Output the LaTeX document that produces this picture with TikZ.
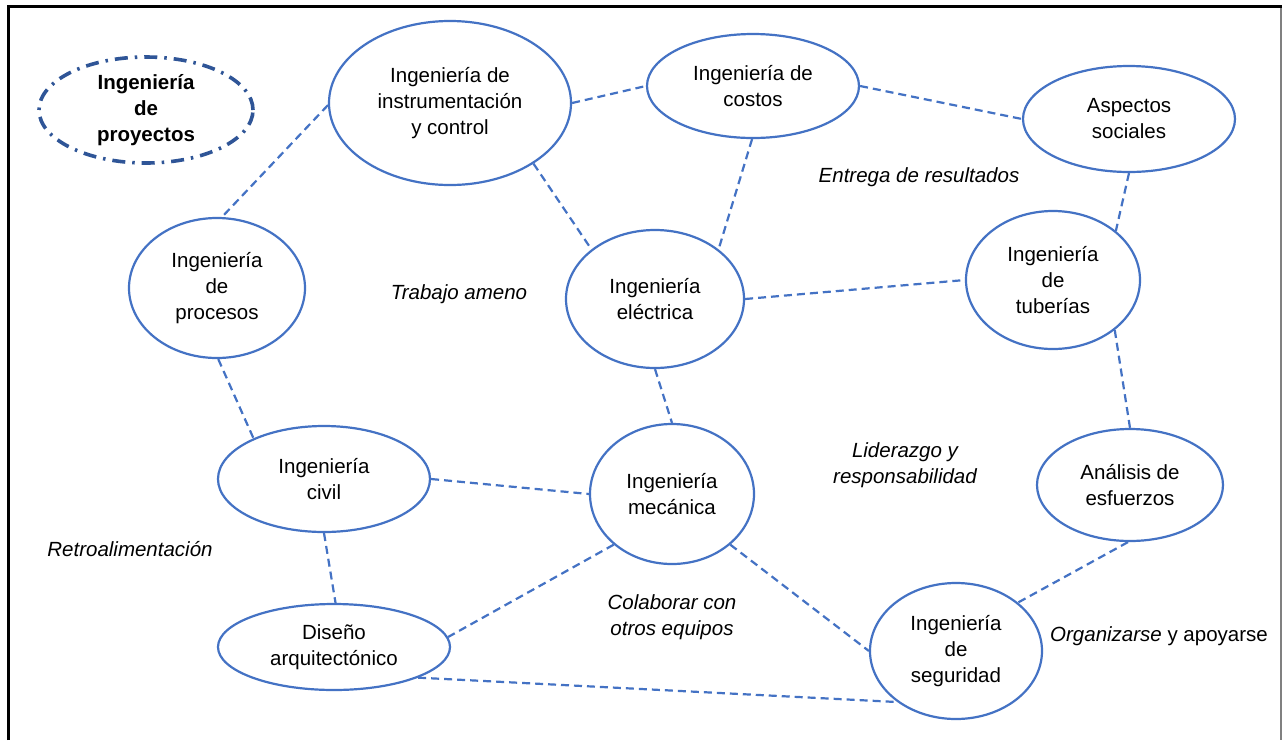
\documentclass[tikz,border=0pt]{standalone}
\usepackage{fontspec}
\setmainfont{Liberation Sans}
\usetikzlibrary{shapes.geometric}
\definecolor{nodeblue}{HTML}{4472C4}
\definecolor{titleblue}{HTML}{2F5597}
\definecolor{framegray}{HTML}{808080}

\begin{document}
\begin{tikzpicture}[x=1pt,y=-1pt,
  txt/.style={font=\fontsize{20.5}{26}\selectfont, align=center, inner sep=0pt},
  area/.style={txt, ellipse, draw=nodeblue, line width=2.2pt, fill=white},
  title/.style={txt, ellipse, draw=titleblue, line width=3.6pt, fill=white,
    dash pattern=on 13pt off 7pt on 2.5pt off 7pt,
    font=\fontsize{20.5}{26}\selectfont\bfseries},
  link/.style={draw=nodeblue, line width=2.2pt, dash pattern=on 8pt off 5pt},
  note/.style={txt, font=\fontsize{20.5}{26}\selectfont\itshape},
]
\useasboundingbox (0,0) rectangle (1286,740);
\fill[white] (0,0) rectangle (1286,740);

% frame
\draw[framegray, line width=1.5pt] (1281,6) -- (1281,740);
\draw[black, line width=3pt] (8,740) -- (8,6) -- (1282,6);

% areas
\node[title, minimum width=214pt, minimum height=106pt] (P) at (146,110) {Ingeniería\\de\\proyectos};
\node[area, minimum width=242pt, minimum height=164pt] (I) at (450,103) {Ingeniería de\\instrumentación\\y control};
\node[area, minimum width=212pt, minimum height=104pt] (C) at (753,86) {Ingeniería de\\costos};
\node[area, minimum width=212pt, minimum height=106pt] (A) at (1129,119) {Aspectos\\sociales};
\node[area, minimum width=176pt, minimum height=140pt] (Pr) at (217,288) {Ingeniería\\de\\procesos};
\node[area, minimum width=178pt, minimum height=138pt] (E) at (655,299) {Ingeniería\\eléctrica};
\node[area, minimum width=174pt, minimum height=138pt] (T) at (1053,280) {Ingeniería\\de\\tuberías};
\node[area, minimum width=212pt, minimum height=106pt] (Ci) at (324,479) {Ingeniería\\civil};
\node[area, minimum width=164pt, minimum height=140pt] (M) at (672,494) {Ingeniería\\mecánica};
\node[area, minimum width=186pt, minimum height=112pt] (An) at (1130,485) {Análisis de\\esfuerzos};
\node[area, minimum width=232pt, minimum height=86pt] (D) at (334,647) {Diseño\\arquitectónico};
\node[area, minimum width=172pt, minimum height=136pt] (S) at (956,651) {Ingeniería\\de\\seguridad};

% links between areas
\draw[link] (I.181) -- (Pr.86);
\draw[link] (I.0) -- (C.180);
\draw[link] (C.0) -- (A.180);
\draw[link] (I.-36) -- (E.142);
\draw[link] (C.269) -- (E.38);
\draw[link] (E.0) -- (T.180);
\draw[link] (A.270) -- (T.38);
\draw[link] (T.321) -- (An.90);
\draw[link] (Pr.271) -- (Ci.150);
\draw[link] (E.270) -- (M.90);
\draw[link] (Ci.0) -- (M.180);
\draw[link] (Ci.270) -- (D.88);
\draw[link] (M.221) -- (D.5);
\draw[link] (M.319) -- (S.180);
\draw[link] (An.268) -- (S.38);
\draw[link] (D.340) -- (S.221);

% notes
\node[note] (n1) at (919,177) {Entrega de resultados};
\node[note] (n2) at (459,294) {Trabajo ameno};
\node[note] (n3) at (905,465) {Liderazgo y\\responsabilidad};
\node[note] (n4) at (130,549) {Retroalimentación};
\node[note] (n5) at (672,617) {Colaborar con\\otros equipos};
\node[txt] (n6) at (1159,636) {{\itshape Organizarse} y apoyarse};
\end{tikzpicture}
\end{document}
